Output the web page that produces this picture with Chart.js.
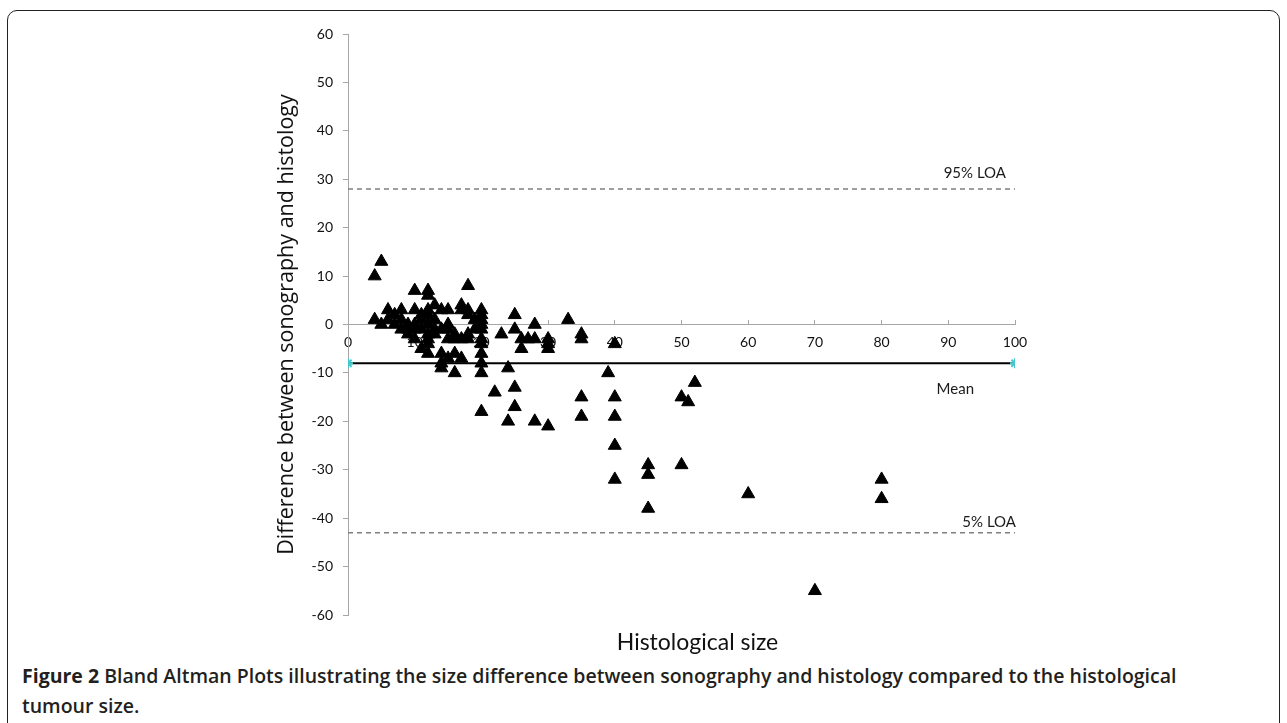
<!DOCTYPE html>
<html>
<head>
<meta charset="utf-8">
<script src="https://cdn.jsdelivr.net/npm/chart.js@4.4.1/dist/chart.umd.min.js"></script>
<style>
    html, body { margin: 0; padding: 0; background: #fff; }
    body { width: 1287px; height: 723px; position: relative; overflow: hidden; }
    #frame {
        position: absolute; left: 7px; top: 10px; width: 1273px; height: 760px;
        border: 1.5px solid #222; border-radius: 10px; box-sizing: border-box;
    }
    #chart { position: absolute; left: 0; top: 0; }
    #caption {
        position: absolute; left: 22px; top: 661px; width: 1200px;
        font-family: "Open Sans", sans-serif; font-size: 19.5px; font-weight: 600;
        line-height: 30px; color: #231f20;
    }
    #caption b { font-weight: 700; }
</style>
</head>
<body>
<div id="frame"></div>
<canvas id="chart" width="1287" height="660"></canvas>
<div id="caption"><b>Figure 2</b> Bland Altman Plots illustrating the size difference between sonography and histology compared to the histological tumour size.</div>

<script>
// histological size (mm) and sonography - histology difference
const histSize = [
    4, 5, 4, 5, 6, 6, 7, 7, 8, 8, 8, 9, 9, 9, 10, 10, 10, 10, 10, 11, 11, 11, 11,
    12, 12, 12, 12, 12, 12, 12, 12, 12, 13, 13, 13, 13, 14, 14, 14, 14, 14,
    15, 15, 15, 15, 15, 16, 16, 16, 16, 17, 17, 17, 17, 18, 18, 18, 18, 18,
    19, 19, 20, 20, 20, 20, 20, 20, 20, 20, 20, 20, 20,
    22, 23, 24, 24, 25, 25, 25, 25, 26, 26, 27, 28, 28, 28, 30, 30, 30, 30, 33, 35, 35, 35, 35,
    39, 40, 40, 40, 40, 40, 45, 45, 45, 50, 50, 51, 52, 60, 70, 80, 80
];
const sizeDiff = [
    10, 13, 1, 0, 3, 1, 2, 0, 3, -1, 1, 0, -1, -2, 7, 3, -1, -3, 0, 2, 1, -1, -5,
    7, 6, 3, 2, 0, -2, -3, -4, -6, 4, 1, -1, -2, 3, -1, -6, -8, -9,
    3, 0, -1, -3, -7, -2, -3, -6, -10, 3, 4, -3, -7, 8, 3, 2, -2, -3,
    1, -1, 3, 2, 1, 0, -1, -3, -4, -6, -8, -10, -18,
    -14, -2, -9, -20, 2, -1, -13, -17, -3, -5, -3, 0, -3, -20, -3, -4, -5, -21, 1, -2, -3, -15, -19,
    -10, -4, -15, -19, -25, -32, -29, -31, -38, -15, -29, -16, -12, -35, -55, -32, -36
];
const meanDiff = -8;
const upperLoa = 28;
const lowerLoa = -43;
const refLabels = ['95% LOA', 'Mean', '5% LOA'];
const xRange = [0, 100];
const yRange = [-60, 60];

const points = histSize.map((x, i) => ({ x: x, y: sizeDiff[i] }));
const hline = v => xRange.map(x => ({ x: x, y: v }));

const axisGrey = '#a6a6a6';
const tickFont = { family: 'Lato', size: 14 };

// writes the reference line names next to their lines
const refLabelPlugin = {
    id: 'refLabels',
    afterLayout(chart) {
        // the x title sits a little right of the plot centre
        chart.scales.xTitle.left += 32;
    },
    afterDatasetsDraw(chart) {
        const { ctx, scales } = chart;
        const xEnd = scales.x.getPixelForValue(xRange[1]);
        const spots = [
            { text: refLabels[0], x: xEnd - 9, y: scales.y.getPixelForValue(upperLoa) - 16 },
            { text: refLabels[1], x: xEnd - 41, y: scales.y.getPixelForValue(meanDiff) + 26 },
            { text: refLabels[2], x: xEnd + 1, y: scales.y.getPixelForValue(lowerLoa) - 11 }
        ];
        ctx.save();
        ctx.font = '15px Lato';
        ctx.fillStyle = '#1a1a1a';
        ctx.textAlign = 'right';
        ctx.textBaseline = 'middle';
        spots.forEach(s => ctx.fillText(s.text, s.x, s.y));
        ctx.restore();
    }
};

new Chart(document.getElementById('chart'), {
    type: 'scatter',
    data: {
        datasets: [{
            label: 'Difference',
            data: points,
            pointStyle: 'triangle',
            pointRadius: 7.5,
            backgroundColor: '#000',
            borderColor: '#000',
            borderWidth: 1
        }, {
            label: 'Mean',
            type: 'line',
            data: hline(meanDiff),
            borderColor: '#000',
            borderWidth: 2,
            pointStyle: 'star',
            pointRadius: 5,
            pointBorderColor: '#45c8cc',
            pointBorderWidth: 2
        }, {
            label: '95% LOA',
            type: 'line',
            data: hline(upperLoa),
            borderColor: '#808080',
            borderWidth: 1.5,
            borderDash: [5, 4],
            pointRadius: 0
        }, {
            label: '5% LOA',
            type: 'line',
            data: hline(lowerLoa),
            borderColor: '#808080',
            borderWidth: 1.5,
            borderDash: [5, 4],
            pointRadius: 0
        }]
    },
    options: {
        responsive: false,
        animation: false,
        devicePixelRatio: 1,
        layout: { padding: { left: 262, right: 272, top: 34, bottom: 4 } },
        plugins: {
            legend: { display: false },
            tooltip: { enabled: false }
        },
        scales: {
            x: {
                type: 'linear',
                position: { y: 0 },
                min: xRange[0], max: xRange[1],
                ticks: { stepSize: 10, padding: 15, color: '#111', font: tickFont },
                grid: { drawOnChartArea: false, tickLength: -5, color: axisGrey },
                border: { color: axisGrey, width: 1 },
                afterFit: s => { s.height = 0; }
            },
            xTitle: {
                type: 'linear',
                position: 'bottom',
                min: xRange[0], max: xRange[1],
                ticks: { display: false },
                grid: { display: false, drawTicks: false },
                border: { display: false },
                title: {
                    display: true, text: 'Histological size', color: '#111',
                    font: { family: 'Lato', size: 23 }, padding: 0
                },
                afterFit: s => { s.height = 41; }
            },
            y: {
                position: 'left',
                min: yRange[0], max: yRange[1],
                ticks: { stepSize: 10, padding: 10, color: '#111', font: tickFont },
                grid: { drawOnChartArea: false, tickLength: 5, color: axisGrey },
                border: { color: axisGrey, width: 1 },
                title: {
                    display: true, text: 'Difference between sonography and histology', color: '#111',
                    font: { family: 'Open Sans', size: 21.5 }, padding: { top: 12, bottom: 0 }
                },
                afterFit: s => { s.width = 86; }
            }
        }
    },
    plugins: [refLabelPlugin]
});
</script>
</body>
</html>
